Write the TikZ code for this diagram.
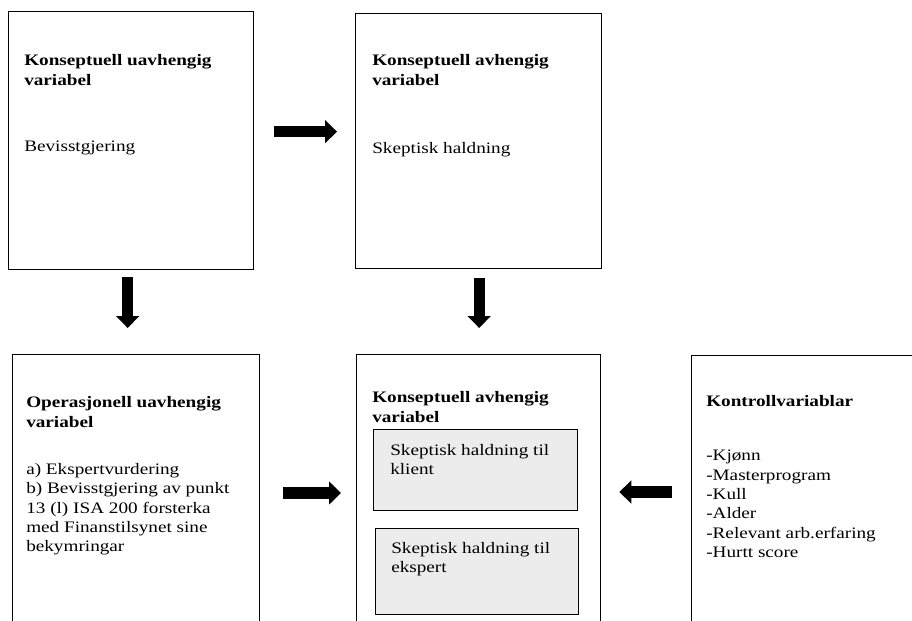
\documentclass[tikz,border=0pt]{standalone}
\usepackage{fontspec}
\setmainfont{Liberation Serif}[FakeStretch=1.2]
\usepackage{tikz}
\usetikzlibrary{arrows.meta,positioning,calc}

\begin{document}
\begin{tikzpicture}[x=0.75pt, y=-0.75pt,
  box/.style={draw, line width=1pt, anchor=north west, inner sep=0pt},
  subbox/.style={box, fill=gray!15},
  head/.style={anchor=north west, inner sep=0pt, align=left, font=\bfseries\fontsize{12}{15}\selectfont},
  body/.style={anchor=north west, inner sep=0pt, align=left, font=\fontsize{12}{14.5}\selectfont},
  bigarrow/.style={line width=8.5pt, -{Triangle[length=9pt,width=17pt]}}]
\useasboundingbox (0,0) rectangle (912,620);
\clip (0,0) rectangle (912,620);

% top row
\node[box, minimum width=183.75pt, minimum height=193.5pt] (b1) at (8,11) {};
\node[head] (h1) at (24,54) {Konseptuell uavhengig\\variabel};
\node[body] (t1) at (24,141) {Bevisstgjering};

\node[box, minimum width=184.5pt, minimum height=191.25pt] (b2) at (355,13) {};
\node[head] (h2) at (372,54) {Konseptuell avhengig\\variabel};
\node[body] (t2) at (372,142) {Skeptisk haldning};

% bottom row
\node[box, minimum width=185.25pt, minimum height=214.5pt] (b3) at (12,354) {};
\node[head] (h3) at (26,396) {Operasjonell uavhengig\\variabel};
\node[body] (t3) at (26,463) {a) Ekspertvurdering\\b) Bevisstgjering av punkt\\13 (l) ISA 200 forsterka\\med Finanstilsynet sine\\bekymringar};

\node[box, minimum width=183pt, minimum height=214.5pt] (b4) at (356,354) {};
\node[head] (h4) at (372,391) {Konseptuell avhengig\\variabel};
\node[subbox, minimum width=153pt, minimum height=60.75pt] (in1) at (373,429) {};
\node[body] (s1) at (390,444) {Skeptisk haldning til\\klient};
\node[subbox, minimum width=152.25pt, minimum height=64.5pt] (in2) at (375,528) {};
\node[body] (s2) at (391,542) {Skeptisk haldning til\\ekspert};

\node[box, minimum width=179.25pt, minimum height=214pt] (b5) at (691,355) {};
\node[head] (h5) at (706,395) {Kontrollvariablar};
\node[body] (t5) at (706,450) {-Kjønn\\-Masterprogram\\-Kull\\-Alder\\-Relevant arb.erfaring\\-Hurtt score};

% arrows
\draw[bigarrow] ($(b1.east)+(20,-9)$) -- ($(b2.west)+(-18,-9.5)$);
\draw[bigarrow] ($(b1.south)+(-3.5,7)$) -- ($(b3.north)+(-8.5,-26)$);
\draw[bigarrow] ($(b2.south)+(0.5,9)$) -- ($(b4.north)+(0.5,-26)$);
\draw[bigarrow] ($(b3.north east)+(23,139)$) -- ($(b4.north west)+(-15,139)$);
\draw[bigarrow] ($(b5.north west)+(-19,137)$) -- ($(b4.north east)+(18,138)$);
\end{tikzpicture}
\end{document}
